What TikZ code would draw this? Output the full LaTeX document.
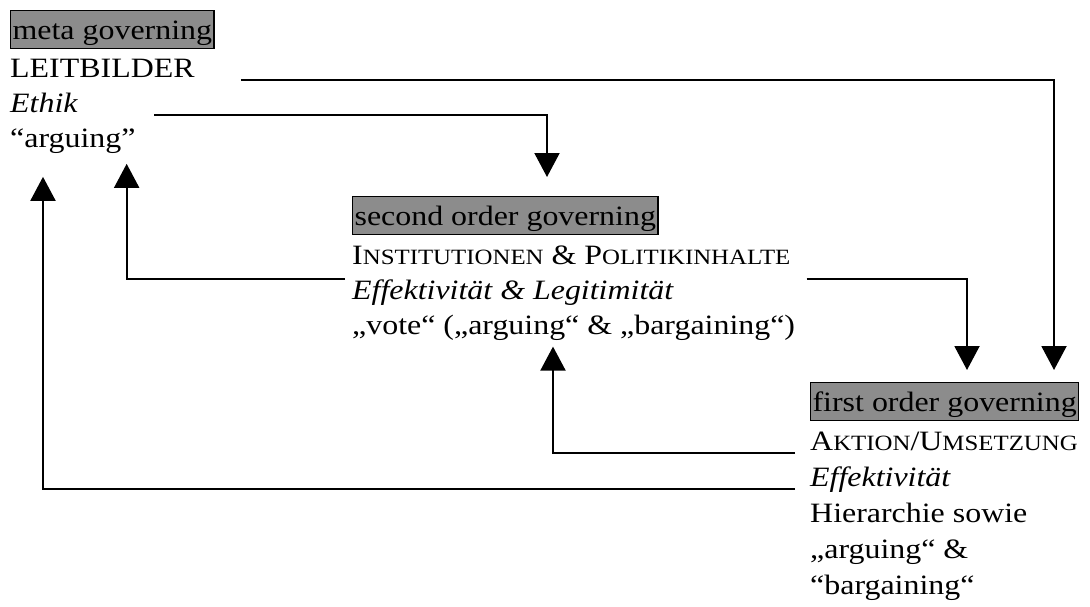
\documentclass[tikz,border=0pt]{standalone}
\usepackage{fontspec}
\setmainfont{Liberation Serif}[FakeStretch=1.14]
\usetikzlibrary{arrows.meta,positioning}
\newcommand{\smc}[1]{{\fontsize{21.8pt}{35pt}\selectfont #1}}

\begin{document}
\begin{tikzpicture}[x=1pt,y=1pt,node distance=35pt,
  font=\fontsize{28pt}{35pt}\selectfont,
  head/.style={draw,line width=1.2pt,fill=black!45,anchor=north west,inner xsep=2pt,inner ysep=3pt,text height=26pt,text depth=6pt},
  row/.style={anchor=base west,inner sep=0pt},
  conn/.style={line width=2pt,-{Triangle[width=25pt,length=24pt]}}]
  \useasboundingbox (0,0) rectangle (1090,-606);

  % meta governing
  \node[head] (metahead) at (10,-10) {meta governing};
  \node[below=38pt of metahead.base west,row] (leitbilder) {LEITBILDER};
  \node[below=of leitbilder.base west,row] (ethik) {\textit{Ethik}};
  \node[below=of ethik.base west,row] (metaarg) {“arguing”};

  % second order governing
  \node[head] (secondhead) at (352,-196) {second order governing};
  \node[below=39pt of secondhead.base west,row] (institutionen) {I\smc{NSTITUTIONEN} \& P\smc{OLITIKINHALTE}};
  \node[below=of institutionen.base west,row] (effleg) {\textit{Effektivität \& Legitimität}};
  \node[below=of effleg.base west,row] (vote) {„vote“ („arguing“ \& „bargaining“)};

  % first order governing
  \node[head] (firsthead) at (810,-382) {first order governing};
  \node[below=39pt of firsthead.base west,row] (aktion) {A\smc{KTION}/U\smc{MSETZUNG}};
  \node[below=36pt of aktion.base west,row] (effekt) {\textit{Effektivität}};
  \node[below=36pt of effekt.base west,row] (hierarchie) {Hierarchie sowie};
  \node[below=36pt of hierarchie.base west,row] (firstarg) {„arguing“ \&};
  \node[below=36pt of firstarg.base west,row] (firstbarg) {“bargaining“};

  % downward links
  \draw[conn] ([xshift=46pt,yshift=-2pt]leitbilder.base east) -| ([xshift=244pt,yshift=12pt]firsthead.north west);
  \draw[conn] ([xshift=76pt,yshift=-2pt]ethik.base east) -| ([xshift=195pt,yshift=19pt]secondhead.north west);
  \draw[conn] ([xshift=16pt,yshift=-14pt]institutionen.base east) -| ([xshift=157pt,yshift=12pt]firsthead.north west);

  % feedback links
  \draw[conn] ([xshift=-7pt,yshift=-14pt]institutionen.base west) -| ([xshift=-9pt,yshift=-10pt]metaarg.south east);
  \draw[conn] ([xshift=-15pt,yshift=-2pt]aktion.base west) -| ([xshift=201pt,yshift=-12pt]vote.base west);
  \draw[conn] ([xshift=-15pt,yshift=-2pt]effekt.base west) -| ([xshift=33pt,yshift=-23pt]metaarg.south west);
\end{tikzpicture}
\end{document}
